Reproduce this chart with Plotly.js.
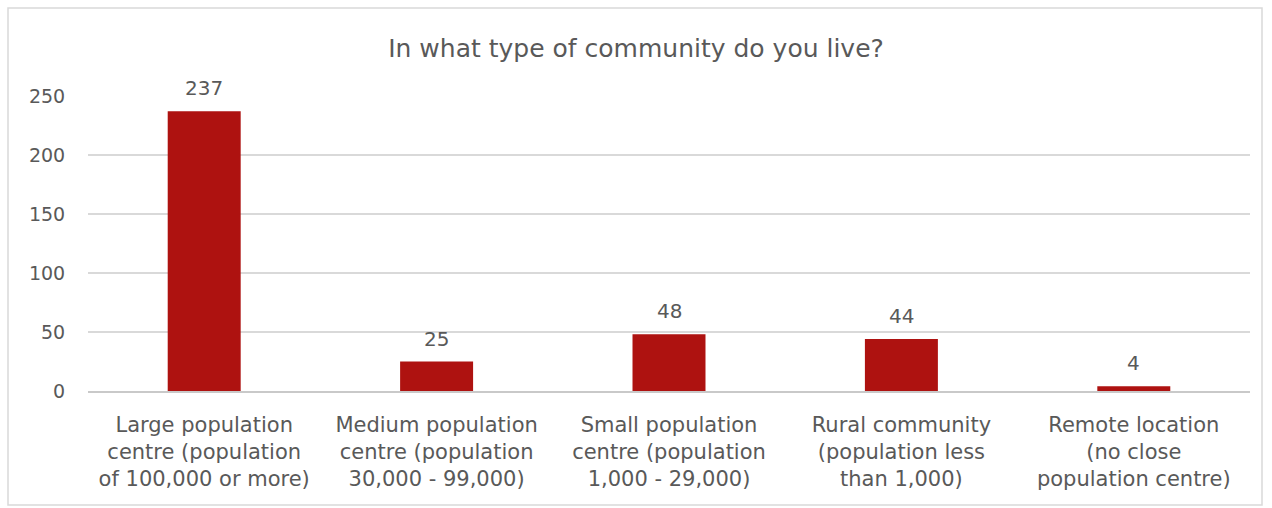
<!DOCTYPE html>
<html><head><meta charset="utf-8">
<script src="https://cdn.plot.ly/plotly-3.0.1.min.js"></script>
<style>html,body{margin:0;padding:0;background:#fff}#chart{width:1272px;height:508px}</style>
</head><body><div id="chart"></div>
<script>
const categories = [
  "Large population<br>centre (population<br>of 100,000 or more)",
  "Medium population<br>centre (population<br>30,000 - 99,000)",
  "Small population<br>centre (population<br>1,000 - 29,000)",
  "Rural community<br>(population less<br>than 1,000)",
  "Remote location<br>(no close<br>population centre)"
];
const counts = [237, 25, 48, 44, 4];
const yTicks = [0, 50, 100, 150, 200, 250];

const W = 1272, H = 508, L = 88, R = 22, T = 96, B = 117;
const pw = W - L - R, ph = H - T - B;
const px = v => (v - L) / pw, py = v => (H - B - v) / ph;

Plotly.newPlot('chart', [{
  type: 'bar', x: categories, y: counts,
  marker: {color: '#AE1210'},
  hoverinfo: 'none'
}], {
  width: W, height: H,
  margin: {l: L, r: R, t: T, b: B, pad: 0},
  paper_bgcolor: '#fff', plot_bgcolor: '#fff',
  font: {family: 'DejaVu Sans', color: '#595959'},
  title: {text: 'In what type of community do you live?', x: 0.5, xanchor: 'center', y: 1 - 48/H, yanchor: 'middle',
          font: {size: 25, color: '#595959', family: 'DejaVu Sans'}},
  bargap: 0.686,
  showlegend: false,
  annotations: categories.map((c, i) => ({
    x: c, y: counts[i], xref: 'x', yref: 'y', text: String(counts[i]), showarrow: false,
    yanchor: 'bottom', yshift: 9, font: {size: 20, color: '#595959', family: 'DejaVu Sans'}
  })),
  xaxis: {tickfont: {size: 21, color: '#595959'}, showline: true, linecolor: '#c9c9c9', linewidth: 1.5,
          ticks: 'outside', ticklen: 14, tickcolor: 'rgba(0,0,0,0)', showgrid: false, fixedrange: true},
  yaxis: {range: [0, 250], tickvals: yTicks, ticktext: yTicks.map(String), showgrid: true, gridcolor: '#d9d9d9', gridwidth: 1.5,
          zeroline: false, tickfont: {size: 19, color: '#595959'},
          ticks: 'outside', ticklen: 18, tickcolor: 'rgba(0,0,0,0)', fixedrange: true},
  shapes: [{type: 'rect', xref: 'paper', yref: 'paper', x0: px(8), x1: px(1262), y0: py(505), y1: py(8),
            line: {color: '#d9d9d9', width: 1.5}, fillcolor: 'rgba(0,0,0,0)', layer: 'below'}]
}, {displayModeBar: false, staticPlot: true});
</script></body></html>
